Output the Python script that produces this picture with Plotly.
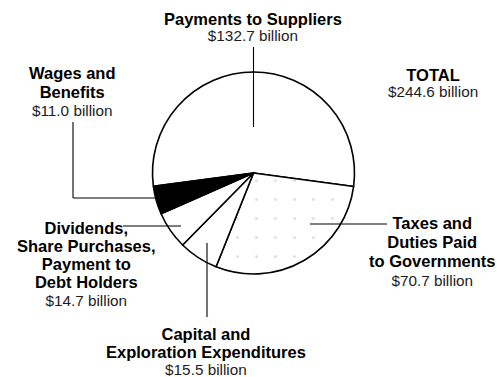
import plotly.graph_objects as go

# Uses of revenue, billions of dollars
categories = [
    "Payments to Suppliers",
    "Taxes and Duties Paid to Governments",
    "Capital and Exploration Expenditures",
    "Dividends, Share Purchases, Payment to Debt Holders",
    "Wages and Benefits",
]
values = [132.7, 70.7, 15.5, 14.7, 11.0]
total = 244.6

# Label lines for each slice (bold heading lines)
heading_lines = [
    ["Payments to Suppliers"],
    ["Taxes and", "Duties Paid", "to Governments"],
    ["Capital and", "Exploration Expenditures"],
    ["Dividends,", "Share Purchases,", "Payment to", "Debt Holders"],
    ["Wages and", "Benefits"],
]
value_labels = [f"${v:.1f} billion" for v in values]
total_label = f"${total:.1f} billion"

W, H = 497, 377
CX, CY, R = 253.5, 173, 101

fills = ["white", "white", "white", "white", "black"]

fig = go.Figure()
fig.add_trace(go.Pie(
    labels=categories,
    values=values,
    sort=False,
    direction="clockwise",
    rotation=262.4,
    textinfo="none",
    hoverinfo="label+value",
    showlegend=False,
    marker=dict(
        colors=fills,
        line=dict(color="black", width=1.6),
        pattern=dict(
            shape=["", ".", "", "", ""],
            fgcolor="#e0e0e0",
            bgcolor=fills,
            size=19,
            solidity=0.02,
        ),
    ),
    domain=dict(
        x=[(CX - R) / W, (CX + R) / W],
        y=[1 - (CY + R) / H, 1 - (CY - R) / H],
    ),
))

FAMILY = "Liberation Sans, Arial, sans-serif"
BOLD_PX = 16.5
REG_PX = 15.3


def px(x, y):
    return x / W, 1 - y / H


def block(lines, value, x, y, spacing):
    """One centred label: bold heading lines followed by a lighter value line."""
    parts = [f'<span style="font-size:{BOLD_PX}px"><b>{t}</b></span>' for t in lines]
    parts.append(f'<span style="font-size:{REG_PX}px;color:#1c1c1c">{value}</span>')
    ax, ay = px(x, y)
    fig.add_annotation(
        x=ax, y=ay, xref="paper", yref="paper",
        text="<br>".join(parts), showarrow=False,
        xanchor="center", yanchor="middle", align="center",
        font=dict(family=FAMILY, size=spacing / 1.3, color="black"),
    )


def leader(points):
    for (x0, y0), (x1, y1) in zip(points[:-1], points[1:]):
        a0, b0 = px(x0, y0)
        a1, b1 = px(x1, y1)
        fig.add_shape(type="line", xref="paper", yref="paper",
                      x0=a0, y0=b0, x1=a1, y1=b1,
                      line=dict(color="black", width=1.1))


# Payments to Suppliers
block(heading_lines[0], value_labels[0], 253, 27, 16)
leader([(253.5, 47), (253.5, 127)])

# Taxes and Duties
block(heading_lines[1], value_labels[1], 432, 251.5, 19)
leader([(310, 224), (387, 224)])

# Capital and Exploration
block(heading_lines[2], value_labels[2], 206, 351, 17.7)
leader([(207, 243), (207, 317)])

# Dividends etc.
block(heading_lines[3], value_labels[3], 86, 263.5, 18)
leader([(123, 226), (181, 226)])

# Wages and Benefits
block(heading_lines[4], value_labels[4], 72.5, 91, 18.7)
leader([(73, 122), (73, 198), (156, 198)])

# Total
block(["TOTAL"], total_label, 432.5, 83, 16)

fig.update_layout(
    width=W, height=H,
    margin=dict(l=0, r=0, t=0, b=0),
    paper_bgcolor="white",
    plot_bgcolor="white",
)

fig.write_html("out.html")
